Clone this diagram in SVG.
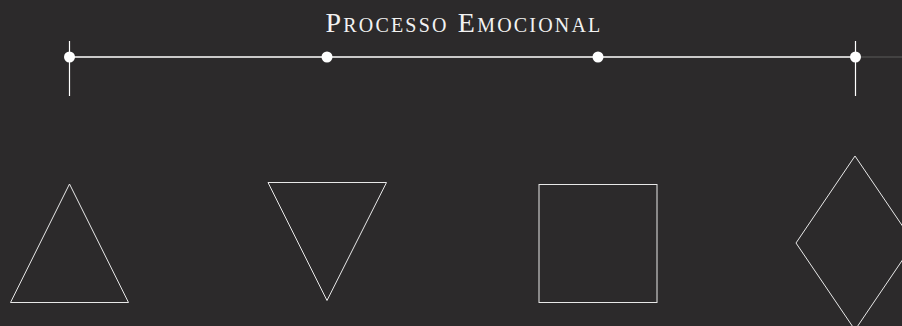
<svg xmlns="http://www.w3.org/2000/svg" width="902" height="326" viewBox="0 0 902 326">
<style>
.bg{fill:#2c2a2b}
.title{font-family:"Liberation Serif","DejaVu Serif",serif;font-variant:small-caps;font-size:28px;fill:#f2f2f2;letter-spacing:2.2px}
.axis{stroke:#ffffff;stroke-width:1.5;fill:none}
.tick{stroke:#ffffff;stroke-width:1.2;fill:none}
.dot{fill:#ffffff}
.shape{stroke:#e8e8e8;stroke-width:1;fill:none}
.tail{stroke:#5a5a5a;stroke-width:1}
</style>
<rect class="bg" x="0" y="0" width="902" height="326"/>
<text class="title" x="464" y="32" text-anchor="middle">Processo Emocional</text>
<g id="connectors">
<line class="axis" x1="69.5" y1="57" x2="855" y2="57"/>
<line class="tail" x1="855" y1="57" x2="902" y2="57"/>
<line class="tick" x1="69.5" y1="41" x2="69.5" y2="96"/>
<line class="tick" x1="855.5" y1="41" x2="855.5" y2="96"/>
</g>
<g id="stage1"><circle class="dot" cx="69.5" cy="57" r="5.5"/></g>
<g id="stage2"><circle class="dot" cx="327" cy="57" r="5.5"/></g>
<g id="stage3"><circle class="dot" cx="598" cy="57" r="5.5"/></g>
<g id="stage4"><circle class="dot" cx="855.5" cy="57" r="5.5"/></g>
<g id="triangle-up"><polygon class="shape" points="69.5,184 10.5,302.5 128.5,302.5"/></g>
<g id="triangle-down"><polygon class="shape" points="268,182.5 386.5,182.5 327,300.5"/></g>
<g id="square"><rect class="shape" x="539" y="184.5" width="118" height="118"/></g>
<g id="diamond"><polygon class="shape" points="855,156 914,243 855,330 796,243"/></g>
</svg>
